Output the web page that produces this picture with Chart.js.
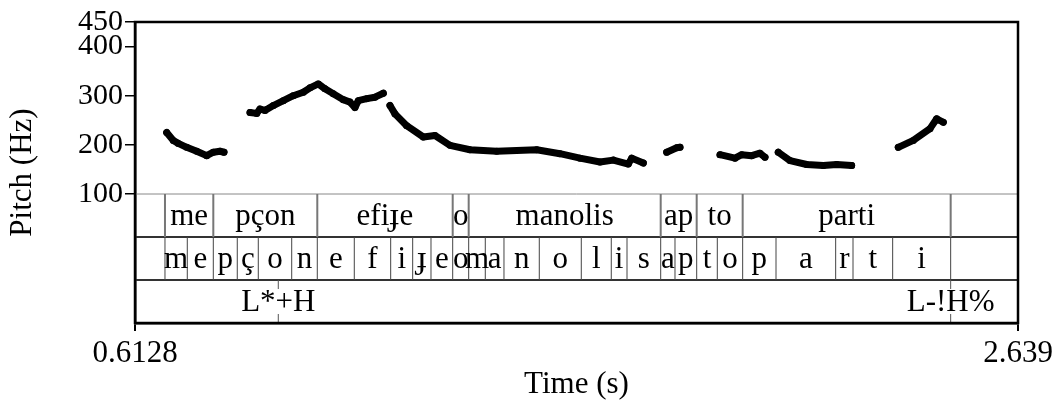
<!DOCTYPE html>
<html>
<head>
<meta charset="utf-8">
<script src="https://cdn.jsdelivr.net/npm/chart.js@4/dist/chart.umd.min.js"></script>
<style>
  html, body { margin: 0; padding: 0; background: #fff; }
  canvas { display: block; }
</style>
</head>
<body>
<canvas id="pitchChart" width="1054" height="403"></canvas>
<script>
// Pitch track: time (s) and F0 (Hz). null = unvoiced gap
const times = [
  0.6855, 0.7007, 0.7122, 0.7314, 0.7544, 0.7773, 0.7925, 0.8078, 0.8170, null,
  0.8767, 0.8921, 0.8996, 0.9111, 0.9302, 0.9531, 0.9760, 0.9990, 1.0144, 1.0334,
  1.0488, 1.0678, 1.0908, 1.1061, 1.1176, 1.1252, 1.1445, 1.1635, 1.1826, null,
  1.1979, 1.2094, 1.2362, 1.2744, 1.3012, 1.3356, 1.3815, 1.4428, 1.5346, 1.5880,
  1.6339, 1.6798, 1.7104, 1.7448, 1.7526, 1.7792, null,
  1.8329, 1.8558, 1.8634, null,
  1.9552, 1.9896, 2.0050, 2.0279, 2.0469, 2.0584, null,
  2.0889, 2.1158, 2.1541, 2.1922, 2.2229, 2.2573, null,
  2.3643, 2.3987, 2.4371, 2.4524, 2.4676
];
const pitchHz = [
  225, 209, 203, 195, 187, 178, 185, 187, 185, null,
  266, 264, 273, 270, 280, 290, 300, 307, 316, 324,
  314, 304, 292, 287, 276, 290, 294, 297, 305, null,
  280, 263, 239, 216, 219, 199, 190, 187, 190, 182,
  173, 165, 169, 161, 173, 163, null,
  185, 194, 195, null,
  180, 173, 180, 178, 183, 175, null,
  185, 168, 160, 158, 160, 158, null,
  195, 209, 233, 253, 246
];

// TextGrid tiers
const wordBounds = [0.6816, 0.7925, 1.0311, 1.3418, 1.3785, 1.8191, 1.9017, 2.0072, 2.4845];
const words = ['me', 'pçon', 'efiɟe', 'o', 'manolis', 'ap', 'to', 'parti'];
const phoneBounds = [0.6816, 0.7328, 0.7925, 0.8475, 0.8957, 0.9724, 1.0311, 1.1160, 1.1995,
  1.2500, 1.2920, 1.3418, 1.3785, 1.4166, 1.4595, 1.5405, 1.6369, 1.7057, 1.7418, 1.8191,
  1.8519, 1.9017, 1.9490, 2.0072, 2.0837, 2.2206, 2.2604, 2.3514, 2.4845];
const phones = ['m', 'e', 'p', 'ç', 'o', 'n', 'e', 'f', 'i', 'ɟ', 'e', 'o', 'm', 'a', 'n', 'o',
  'l', 'i', 's', 'a', 'p', 't', 'o', 'p', 'a', 'r', 't', 'i'];
const toneTimes = [0.9416, 2.4845];
const tones = ['L*+H', 'L-!H%'];

// axis ticks
const yTicks = [100, 200, 300, 400, 450];
const xTicks = [0.6128, 2.639];

const serif = "'Liberation Serif', 'Times New Roman', serif";

const pitchData = times.map((t, i) => (t === null ? { x: null, y: null } : { x: t, y: pitchHz[i] }));

const tierPlugin = {
  id: 'tiers',
  afterDraw(chart) {
    const ctx = chart.ctx;
    const xs = chart.scales.x;
    const ys = chart.scales.y;
    const area = chart.chartArea;
    const top = ys.getPixelForValue(100);
    const h = (area.bottom - top) / 3;
    const rows = [top, top + h, top + 2 * h, area.bottom];
    const px = t => xs.getPixelForValue(t);

    ctx.save();
    // horizontal separators
    ctx.strokeStyle = '#888';
    ctx.lineWidth = 1;
    ctx.beginPath();
    ctx.moveTo(area.left, rows[0]); ctx.lineTo(area.right, rows[0]);
    ctx.stroke();
    ctx.strokeStyle = '#333';
    ctx.lineWidth = 2;
    ctx.beginPath();
    ctx.moveTo(area.left, rows[1]); ctx.lineTo(area.right, rows[1]);
    ctx.moveTo(area.left, rows[2]); ctx.lineTo(area.right, rows[2]);
    ctx.stroke();

    // word boundaries
    ctx.strokeStyle = '#777';
    ctx.lineWidth = 2;
    ctx.beginPath();
    wordBounds.forEach(t => { ctx.moveTo(px(t), rows[0]); ctx.lineTo(px(t), rows[1]); });
    ctx.stroke();

    // phone boundaries
    ctx.strokeStyle = '#444';
    ctx.lineWidth = 1;
    ctx.beginPath();
    phoneBounds.forEach(t => { ctx.moveTo(px(t), rows[1]); ctx.lineTo(px(t), rows[2]); });
    ctx.stroke();

    // tone points: short marks at top and bottom of the tier
    ctx.strokeStyle = '#555';
    ctx.beginPath();
    toneTimes.forEach(t => {
      ctx.moveTo(px(t), rows[2]); ctx.lineTo(px(t), rows[2] + 9);
      ctx.moveTo(px(t), rows[3] - 9); ctx.lineTo(px(t), rows[3]);
    });
    ctx.stroke();

    ctx.fillStyle = '#000';
    ctx.font = '31px ' + serif;
    ctx.textAlign = 'center';
    ctx.textBaseline = 'middle';
    words.forEach((w, i) => {
      ctx.fillText(w, (px(wordBounds[i]) + px(wordBounds[i + 1])) / 2, (rows[0] + rows[1]) / 2 + 1);
    });
    phones.forEach((p, i) => {
      ctx.fillText(p, (px(phoneBounds[i]) + px(phoneBounds[i + 1])) / 2, (rows[1] + rows[2]) / 2 + 1);
    });
    tones.forEach((s, i) => {
      ctx.fillText(s, px(toneTimes[i]), (rows[2] + rows[3]) / 2 + 1);
    });

    // outer frame
    ctx.strokeStyle = '#000';
    ctx.lineWidth = 2.5;
    ctx.strokeRect(area.left, area.top, area.right - area.left, area.bottom - area.top);
    ctx.restore();
  }
};

new Chart(document.getElementById('pitchChart'), {
  type: 'line',
  data: {
    datasets: [{
      data: pitchData,
      borderColor: '#000',
      backgroundColor: '#000',
      borderWidth: 7,
      borderCapStyle: 'round',
      borderJoinStyle: 'round',
      pointRadius: 3.5,
      pointBorderWidth: 0,
      spanGaps: false,
      tension: 0
    }]
  },
  options: {
    responsive: false,
    animation: false,
    devicePixelRatio: 1,
    layout: { padding: { top: 22, right: 36, left: 0, bottom: 0 } },
    plugins: { legend: { display: false }, tooltip: { enabled: false } },
    scales: {
      x: {
        type: 'linear',
        min: xTicks[0],
        max: xTicks[1],
        afterBuildTicks: s => { s.ticks = xTicks.map(v => ({ value: v })); },
        afterFit: s => { s.height = 80; s.paddingLeft = 0; s.paddingRight = 0; },
        ticks: {
          autoSkip: false,
          maxRotation: 0,
          padding: 4,
          color: '#000',
          font: { family: serif, size: 31 },
          callback: v => String(v)
        },
        grid: { drawOnChartArea: false, drawTicks: true, tickLength: 8, color: '#000', lineWidth: 2 },
        border: { display: true, color: '#000', width: 2.5 },
        title: {
          display: true,
          text: 'Time (s)',
          color: '#000',
          font: { family: serif, size: 31 },
          padding: { top: 0, bottom: 0 }
        }
      },
      y: {
        type: 'linear',
        min: -162.5,
        max: 450,
        afterBuildTicks: s => { s.ticks = yTicks.map(v => ({ value: v })); },
        afterFit: s => { s.width = 135; s.paddingTop = 0; s.paddingBottom = 0; },
        ticks: {
          autoSkip: false,
          padding: 2,
          color: '#000',
          font: { family: serif, size: 30 },
          callback: v => String(v)
        },
        grid: { drawOnChartArea: false, drawTicks: true, tickLength: 10, color: '#000', lineWidth: 1.5 },
        border: { display: true, color: '#000', width: 2.5 },
        title: {
          display: true,
          text: 'Pitch (Hz)',
          color: '#000',
          font: { family: serif, size: 31 },
          padding: { top: 4, bottom: 0 }
        }
      }
    }
  },
  plugins: [tierPlugin]
});
</script>
</body>
</html>
